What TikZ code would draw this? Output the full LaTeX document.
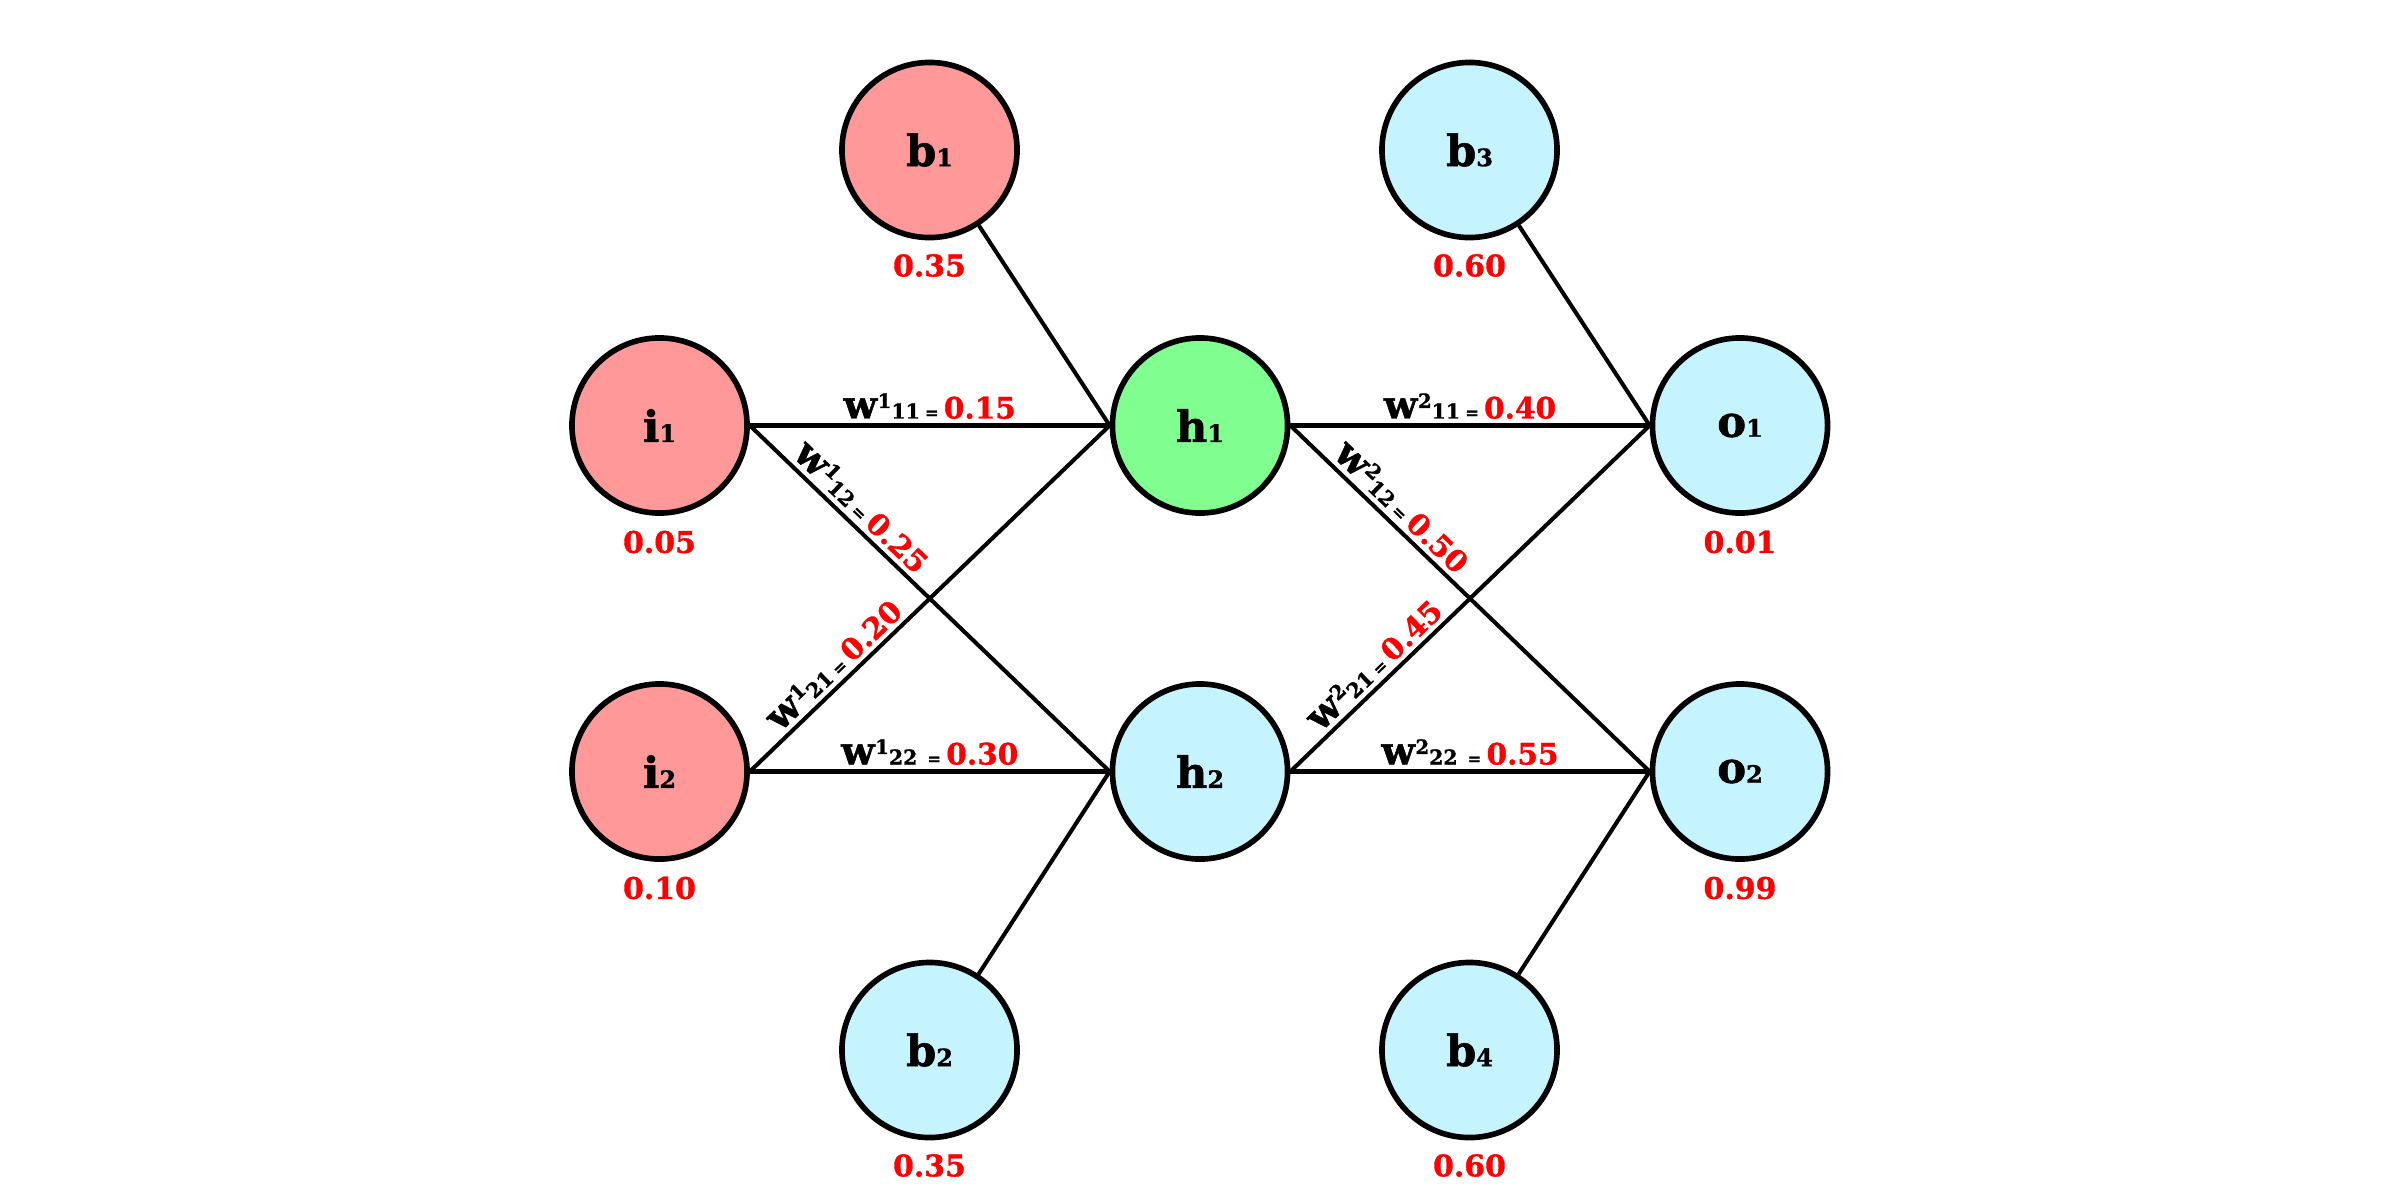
\documentclass[tikz,border=0pt]{standalone}
\usepackage{fontspec}
\setmainfont{DejaVu Serif}[BoldFeatures={FakeBold=1.2}]
\definecolor{inpink}{RGB}{255,153,153}
\definecolor{hidgreen}{RGB}{128,255,144}
\definecolor{pale}{RGB}{198,244,254}
\definecolor{valred}{RGB}{255,0,0}
% neuron caption with a small on-baseline index
\newcommand\nlab[2]{#1{\fontsize{6.8}{6.8}\selectfont #2}}
% weight label: superscript, subscript, extra gap, value
\newcommand\wlab[4]{{\fontsize{11}{11}\selectfont w}\kern0.2pt\raisebox{3pt}{\fontsize{5.6}{5.6}\selectfont #1}{\fontsize{5.8}{5.8}\selectfont #2}#3\kern1.5pt{\fontsize{4.6}{4.6}\selectfont =}\kern1.5pt{\color{valred}\fontsize{8.4}{8.4}\selectfont #4}}
\begin{document}
\begin{tikzpicture}[x=0.01cm,y=-0.01cm,
  neuron/.style={circle, draw=black, line width=1.6pt, minimum size=1.75cm,
    inner sep=0pt, font=\bfseries\fontsize{12.3}{12.3}\selectfont},
  inp/.style={neuron, fill=inpink},
  hidg/.style={neuron, fill=hidgreen},
  blue/.style={neuron, fill=pale},
  val/.style={text=valred, font=\bfseries\fontsize{8.5}{8.5}\selectfont, inner sep=0pt},
  link/.style={draw=black, line width=1.15pt},
  wl/.style={font=\bfseries, inner sep=1.3pt}]
\fill[white] (0,0) rectangle (2400,1200);
\useasboundingbox (0,0) rectangle (2400,1200);

% neurons
\node[inp]  (i1) at (659.5,425.5) {\nlab{i}{1}};
\node[inp]  (i2) at (659.5,771.5) {\nlab{i}{2}};
\node[inp]  (b1) at (929.5,150)   {\nlab{b}{1}};
\node[blue] (b2) at (929.5,1050)  {\nlab{b}{2}};
\node[hidg] (h1) at (1200,425.5)  {\nlab{h}{1}};
\node[blue] (h2) at (1200,771.5)  {\nlab{h}{2}};
\node[blue] (b3) at (1469.5,150)  {\nlab{b}{3}};
\node[blue] (b4) at (1469.5,1050) {\nlab{b}{4}};
\node[blue] (o1) at (1740,425.5)  {\nlab{o}{1}};
\node[blue] (o2) at (1740,771.5)  {\nlab{o}{2}};

% values under the neurons
\node[val] (vi1) at (659.5,542)  {0.05};
\node[val] (vi2) at (659.5,888)  {0.10};
\node[val] (vb1) at (929.5,265.5) {0.35};
\node[val] (vb2) at (929.5,1165.5) {0.35};
\node[val] (vb3) at (1469.5,265.5) {0.60};
\node[val] (vb4) at (1469.5,1165.5) {0.60};
\node[val] (vo1) at (1740,542)   {0.01};
\node[val] (vo2) at (1740,888)   {0.99};

% bias links
\draw[link] (b1) -- (h1.west);
\draw[link] (b2) -- (h2.west);
\draw[link] (b3) -- (o1.west);
\draw[link] (b4) -- (o2.west);

% input to hidden
\draw[link] (i1.east) -- node[wl, above, pos=.5] (w111) {\wlab{1}{11}{}{0.15}} (h1.west);
\draw[link] (i1.east) -- node[wl, above, sloped, pos=.275] (w112) {\wlab{1}{12}{}{0.25}} (h2.west);
\draw[link] (i2.east) -- node[wl, above, sloped, pos=.27] (w121) {\wlab{1}{21}{}{0.20}} (h1.west);
\draw[link] (i2.east) -- node[wl, above, pos=.5] (w122) {\wlab{1}{22}{\kern1.4pt}{0.30}} (h2.west);

% hidden to output
\draw[link] (h1.east) -- node[wl, above, pos=.5] (w211) {\wlab{2}{11}{}{0.40}} (o1.west);
\draw[link] (h1.east) -- node[wl, above, sloped, pos=.275] (w212) {\wlab{2}{12}{}{0.50}} (o2.west);
\draw[link] (h2.east) -- node[wl, above, sloped, pos=.27] (w221) {\wlab{2}{21}{}{0.45}} (o1.west);
\draw[link] (h2.east) -- node[wl, above, pos=.5] (w222) {\wlab{2}{22}{\kern1.4pt}{0.55}} (o2.west);
\end{tikzpicture}
\end{document}
